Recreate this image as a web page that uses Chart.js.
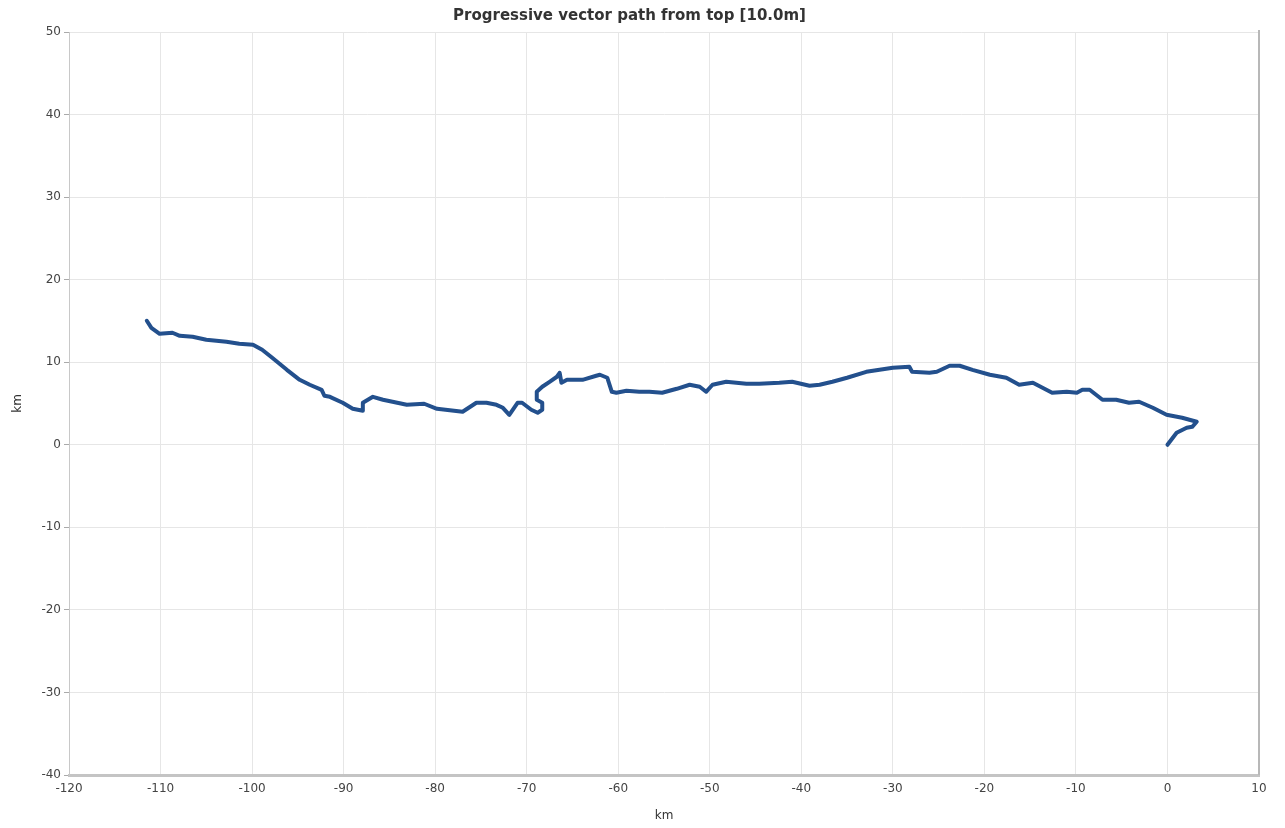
<!DOCTYPE html>
<html lang="en">

<head>
    <meta charset="UTF-8">
    <title>Progressive vector path from top [10.0m]</title>
    <style>
        html, body {
            margin: 0;
            padding: 0;
            background: #ffffff;
        }

        #wrap {
            width: 1285px;
            height: 828px;
        }
    </style>
</head>

<body>

    <div id="wrap">
        <canvas id="pathChart" width="1285" height="828"></canvas>
    </div>

    <script src="https://cdn.jsdelivr.net/npm/chart.js"></script>

    <script>
        // Path, in km, starting at the origin
        const pathX = [
            0, 1.0, 2.1, 2.7, 3.2, 2.4, 1.6, -0.1, -1.6, -3.1,
            -4.2, -5.6, -7.1, -8.5, -9.3, -9.9, -11.0, -12.6, -14.7, -16.2,
            -17.6, -19.4, -21.3, -22.7, -23.8, -25.2, -26.0, -27.9, -28.2, -30.0,
            -32.9, -35.0, -36.6, -38.0, -39.1, -41.0, -42.4, -44.6, -46.0, -48.2,
            -49.7, -50.4, -51.1, -52.2, -53.6, -55.2, -56.6, -57.7, -59.1, -60.2,
            -60.7, -61.2, -62.0, -62.4, -63.9, -65.6, -66.2, -66.4, -66.7, -67.5,
            -68.3, -68.9, -68.9, -68.3, -68.3, -68.8, -69.5, -70.5, -71.0, -71.9,
            -72.6, -73.3, -74.4, -75.5, -77.0, -79.8, -81.2, -83.1, -85.7, -86.8,
            -87.9, -87.9, -89.0, -90.1, -91.5, -92.1, -92.4, -93.7, -94.8, -96.2,
            -97.8, -98.9, -99.9, -101.4, -102.8, -105.0, -106.5, -107.9, -108.7, -110.1,
            -111.0, -111.5
        ];
        const pathY = [
            0, 1.45, 2.06, 2.18, 2.79, 3.03, 3.27, 3.63, 4.48, 5.21,
            5.09, 5.45, 5.45, 6.66, 6.66, 6.30, 6.42, 6.30, 7.51, 7.27,
            8.12, 8.48, 9.08, 9.57, 9.57, 8.84, 8.72, 8.84, 9.45, 9.33,
            8.84, 8.12, 7.63, 7.27, 7.15, 7.63, 7.51, 7.39, 7.39, 7.63,
            7.27, 6.42, 7.03, 7.27, 6.78, 6.30, 6.42, 6.42, 6.54, 6.30,
            6.42, 8.12, 8.48, 8.36, 7.87, 7.87, 7.51, 8.72, 8.24, 7.63,
            7.03, 6.42, 5.45, 5.09, 4.24, 3.88, 4.24, 5.09, 5.09, 3.63,
            4.48, 4.84, 5.09, 5.09, 4.00, 4.36, 4.97, 4.84, 5.45, 5.81,
            5.09, 4.12, 4.36, 5.09, 5.81, 5.94, 6.66, 7.27, 7.87, 9.08,
            10.54, 11.51, 12.11, 12.23, 12.48, 12.72, 13.08, 13.20, 13.57, 13.44,
            14.17, 15.02
        ];

        const xMin = -120, xMax = 10, xStep = 10;
        const yMin = -40, yMax = 50, yStep = 10;
        const chartTitle = 'Progressive vector path from top [10.0m]';
        const xTitle = 'km';
        const yTitle = 'km';

        const points = pathX.map((x, i) => ({ x: x, y: pathY[i] }));

        // thin frame line on the right of the plot
        const rightFrame = {
            id: 'rightFrame',
            afterDraw(chart) {
                const a = chart.chartArea;
                const ctx = chart.ctx;
                ctx.save();
                ctx.strokeStyle = '#b8b8b8';
                ctx.lineWidth = 2;
                ctx.beginPath();
                ctx.moveTo(a.right, a.top - 2);
                ctx.lineTo(a.right, a.bottom);
                ctx.stroke();
                ctx.restore();
            }
        };

        Chart.defaults.font.family = '"DejaVu Sans", Verdana, sans-serif';
        Chart.defaults.color = '#444';

        const ctx = document.getElementById('pathChart').getContext('2d');
        const pathChart = new Chart(ctx, {
            type: 'scatter',
            data: {
                datasets: [{
                    label: 'path',
                    data: points,
                    showLine: true,
                    borderColor: '#23508d',
                    backgroundColor: '#23508d',
                    borderWidth: 4,
                    borderJoinStyle: 'round',
                    borderCapStyle: 'round',
                    pointRadius: 0,
                    tension: 0
                }]
            },
            options: {
                responsive: false,
                animation: false,
                layout: {
                    padding: { left: 0, right: 26, top: 0, bottom: 0 }
                },
                plugins: {
                    legend: { display: false },
                    tooltip: { enabled: false },
                    title: {
                        display: true,
                        text: chartTitle,
                        color: '#333',
                        font: { size: 15, weight: 'bold' },
                        padding: { top: 7, bottom: 7 }
                    }
                },
                scales: {
                    x: {
                        type: 'linear',
                        min: xMin,
                        max: xMax,
                        ticks: {
                            stepSize: xStep,
                            font: { size: 12 },
                            color: '#444',
                            padding: 7,
                            maxRotation: 0
                        },
                        grid: {
                            color: '#e6e6e6',
                            drawTicks: false
                        },
                        border: {
                            display: true,
                            color: '#c4c4c4',
                            width: 3
                        },
                        title: {
                            display: true,
                            text: xTitle,
                            color: '#333',
                            font: { size: 12 },
                            padding: { top: 0, bottom: 5 }
                        },
                        afterFit(scale) {
                            scale.height = 53;
                        }
                    },
                    y: {
                        type: 'linear',
                        min: yMin,
                        max: yMax,
                        ticks: {
                            stepSize: yStep,
                            font: { size: 12 },
                            color: '#444',
                            padding: 3
                        },
                        grid: {
                            color: '#e6e6e6',
                            tickColor: '#aaa',
                            tickLength: 5
                        },
                        border: {
                            display: true,
                            color: '#c8c8c8',
                            width: 1
                        },
                        title: {
                            display: true,
                            text: yTitle,
                            color: '#333',
                            font: { size: 12 },
                            padding: { top: 11, bottom: 0 }
                        },
                        afterFit(scale) {
                            scale.width = 69;
                        }
                    }
                }
            },
            plugins: [rightFrame]
        });
    </script>

</body>

</html>
